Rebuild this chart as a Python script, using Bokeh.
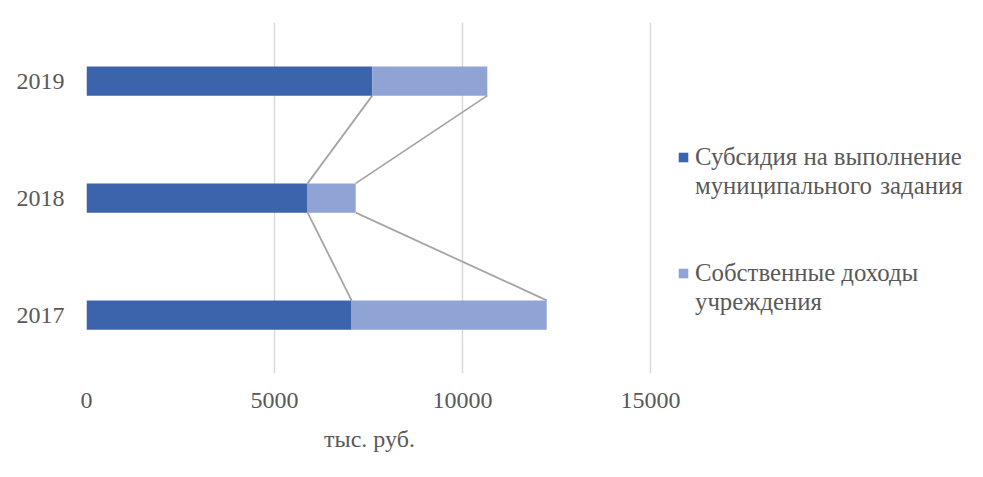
from bokeh.plotting import figure
from bokeh.models import Range1d, FixedTicker, Legend, LegendItem, ColumnDataSource
from bokeh.embed import file_html
from bokeh.resources import INLINE

years = ["2017", "2018", "2019"]
subsidy = [7050, 5880, 7600]
own_income = [5190, 1280, 3060]
x_ticks = [0, 5000, 10000, 15000]
series_names = ["Субсидия на выполнение", "муниципального \u200aзадания",
                "Собственные доходы", "учреждения"]

DARK = "#3B64AD"
LIGHT = "#8FA3D5"
TXT = "#595959"
FONT = "Liberation Serif"
BAR_H = 0.25

ypos = list(range(len(years)))
totals = [a + b for a, b in zip(subsidy, own_income)]

p = figure(frame_width=566, frame_height=351, output_backend="svg",
           toolbar_location=None,
           x_range=Range1d(0, 15053), y_range=Range1d(-0.5, 2.5),
           min_border_left=86, min_border_right=0, min_border_top=22,
           min_border_bottom=96)
p.outline_line_color = None

src = ColumnDataSource(dict(y=ypos, sub=subsidy, tot=totals))
xs_d, ys_d, xs_l, ys_l = [], [], [], []
for i in range(len(years) - 1, 0, -1):
    xs_d.append([subsidy[i], subsidy[i - 1]])
    ys_d.append([ypos[i] - BAR_H / 2, ypos[i - 1] + BAR_H / 2])
    xs_l.append([totals[i], totals[i - 1]])
    ys_l.append([ypos[i] - BAR_H / 2, ypos[i - 1] + BAR_H / 2])
p.multi_line(xs=xs_d + xs_l, ys=ys_d + ys_l, line_color="#A5A5A5", line_width=1.8)

r1 = p.hbar(y="y", left=0, right="sub", height=BAR_H, source=src,
            fill_color=DARK, line_color=None)
r2 = p.hbar(y="y", left="sub", right="tot", height=BAR_H, source=src,
            fill_color=LIGHT, line_color=None)
dummy = p.rect(x=[], y=[], width=0, height=0, fill_alpha=0, line_alpha=0)

p.xaxis.ticker = FixedTicker(ticks=x_ticks)
p.yaxis.ticker = FixedTicker(ticks=ypos)
p.yaxis.major_label_overrides = {i: y for i, y in zip(ypos, years)}
for ax in (p.xaxis[0], p.yaxis[0]):
    ax.axis_line_color = None
    ax.major_tick_line_color = None
    ax.minor_tick_line_color = None
    ax.major_tick_out = 0
    ax.major_tick_in = 0
    ax.major_label_text_font = FONT
    ax.major_label_text_font_size = "24px"
    ax.major_label_text_color = TXT
p.yaxis.major_label_standoff = 22
p.xaxis.major_label_standoff = 19
p.xaxis.axis_label = "тыс. руб."
p.xaxis.axis_label_text_font = FONT
p.xaxis.axis_label_text_font_size = "24px"
p.xaxis.axis_label_text_font_style = "normal"
p.xaxis.axis_label_text_color = TXT
p.xaxis.axis_label_standoff = 15

p.xgrid.grid_line_color = "#D9D9D9"
p.xgrid.grid_line_width = 1.5
p.ygrid.grid_line_color = None

items = [
    LegendItem(label=series_names[0], renderers=[r1]),
    LegendItem(label=series_names[1], renderers=[dummy]),
    LegendItem(label=" ", renderers=[dummy]),
    LegendItem(label=" ", renderers=[dummy]),
    LegendItem(label=series_names[2], renderers=[r2]),
    LegendItem(label=series_names[3], renderers=[dummy]),
]
legend = Legend(items=items, location=(25, 57), padding=0, margin=0,
                spacing=0, glyph_width=12, glyph_height=12, label_height=29,
                label_standoff=6, label_text_font=FONT,
                label_text_font_size="24.8px", label_text_color=TXT,
                border_line_color=None, background_fill_alpha=0)
p.add_layout(legend, "right")

open("out.html", "w").write(file_html(p, INLINE))
